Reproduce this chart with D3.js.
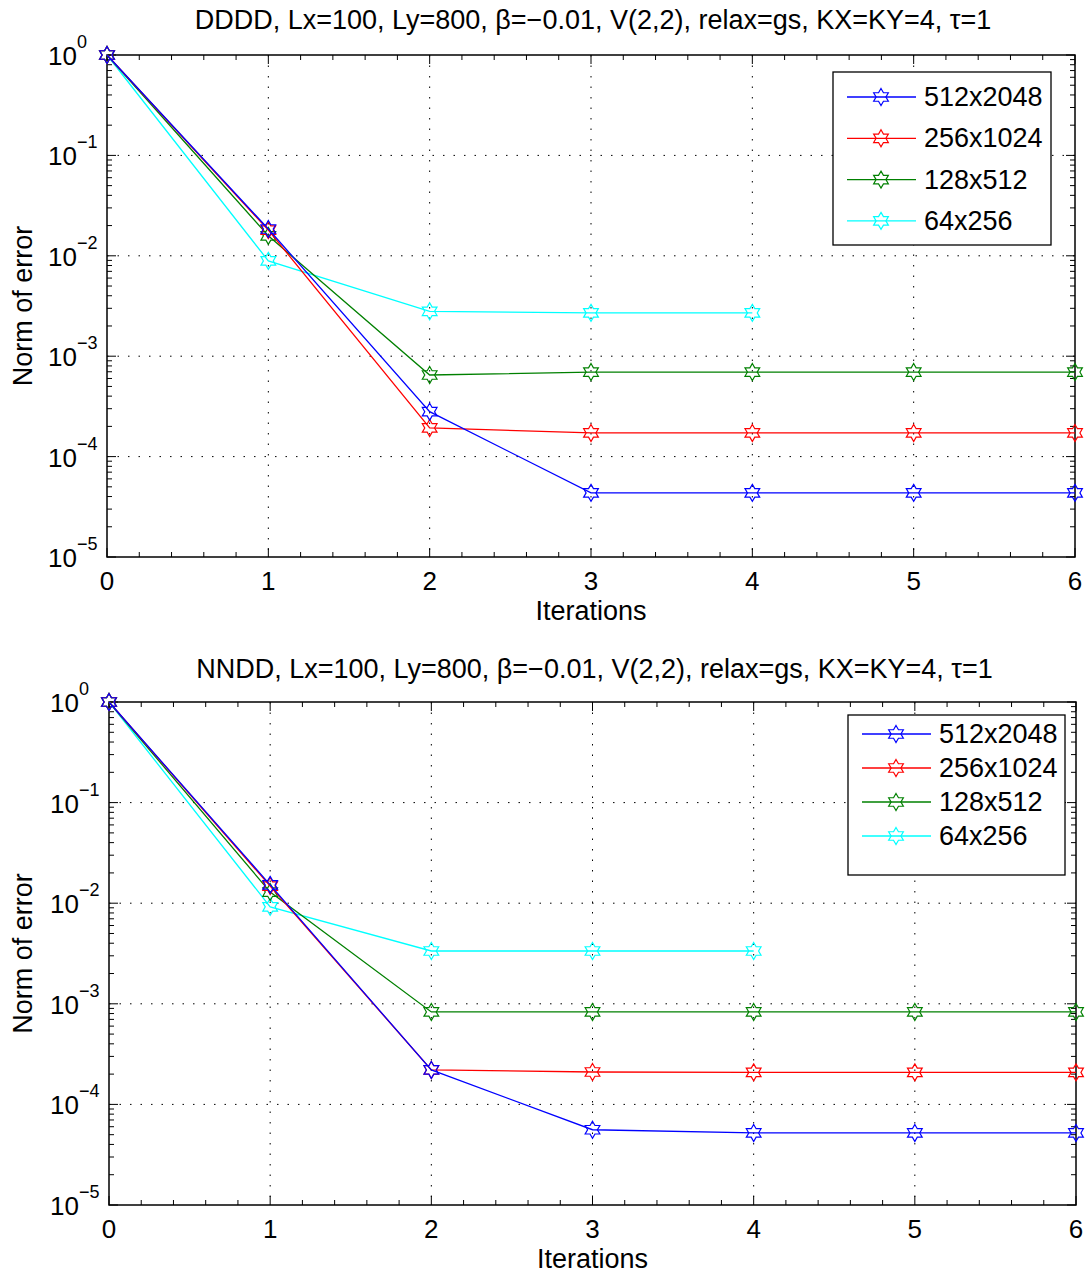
<!DOCTYPE html>
<html>
<head>
<meta charset="utf-8">
<script src="https://cdn.jsdelivr.net/npm/d3@7"></script>
<style>
  body { margin: 0; background: #fff; }
  svg { font-family: "Liberation Sans", Arial, sans-serif; }
</style>
</head>
<body>
<div id="chart"></div>
<script>
// iterations and grid sizes
var iterations = [0, 1, 2, 3, 4, 5, 6];
var seriesNames = ["512x2048", "256x1024", "128x512", "64x256"];
var seriesColors = ["#0000ff", "#ff0000", "#008000", "#00ffff"];

// DDDD errors
var dddd512 = [1, 0.0185, 2.8e-4, 4.35e-5, 4.35e-5, 4.35e-5, 4.35e-5];
var dddd256 = [1, 0.018, 1.93e-4, 1.72e-4, 1.72e-4, 1.72e-4, 1.72e-4];
var dddd128 = [1, 0.0158, 6.5e-4, 6.95e-4, 6.95e-4, 6.95e-4, 6.95e-4];
var dddd64 = [1, 0.0089, 2.8e-3, 2.7e-3, 2.7e-3];

// NNDD errors
var nndd512 = [1, 0.0152, 2.2e-4, 5.6e-5, 5.2e-5, 5.2e-5, 5.2e-5];
var nndd256 = [1, 0.0148, 2.2e-4, 2.1e-4, 2.08e-4, 2.08e-4, 2.08e-4];
var nndd128 = [1, 0.0129, 8.3e-4, 8.3e-4, 8.3e-4, 8.3e-4, 8.3e-4];
var nndd64 = [1, 0.0092, 3.35e-3, 3.35e-3, 3.35e-3];

var yTickExps = [0, -1, -2, -3, -4, -5];

var W = 1087, H = 1274;
var svg = d3.select("#chart").append("svg")
    .attr("width", W)
    .attr("height", H);

function hexagram(r) {
  var pts = [];
  var ri = r / Math.sqrt(3);
  for (var i = 0; i < 12; i++) {
    var a = -Math.PI / 2 + i * Math.PI / 6;
    var rr = i % 2 === 0 ? r : ri;
    pts.push([rr * Math.cos(a), rr * Math.sin(a)]);
  }
  return "M" + pts.map(function(p) { return p[0].toFixed(2) + "," + p[1].toFixed(2); }).join("L") + "Z";
}
var star = hexagram(8.5);

function drawPanel(opt) {
  var x = d3.scaleLinear().domain([0, 6]).range([opt.left, opt.right]);
  var y = d3.scaleLog().domain([1e-5, 1]).range([opt.bottom, opt.top]);
  var g = svg.append("g");

  // grid
  g.selectAll(".gx").data(iterations.slice(1, 6)).enter().append("line")
      .attr("x1", function(d) { return x(d); }).attr("x2", function(d) { return x(d); })
      .attr("y1", opt.top).attr("y2", opt.bottom)
      .attr("stroke", "#000").attr("stroke-width", 1)
      .attr("stroke-dasharray", "1.5,9");
  g.selectAll(".gy").data(yTickExps.slice(1, 5)).enter().append("line")
      .attr("y1", function(d) { return y(Math.pow(10, d)); }).attr("y2", function(d) { return y(Math.pow(10, d)); })
      .attr("x1", opt.left).attr("x2", opt.right)
      .attr("stroke", "#000").attr("stroke-width", 1)
      .attr("stroke-dasharray", "1.5,9");

  // minor ticks on x (0.2 steps), inside, bottom and top
  var xMinor = d3.range(0, 6.001, 0.2).filter(function(v) { return Math.abs(v - Math.round(v)) > 1e-6; });
  [opt.bottom, opt.top].forEach(function(yy, k) {
    var dir = k === 0 ? -1 : 1;
    g.selectAll(null).data(xMinor).enter().append("line")
        .attr("x1", function(d) { return x(d); }).attr("x2", function(d) { return x(d); })
        .attr("y1", yy).attr("y2", yy + dir * 5)
        .attr("stroke", "#000").attr("stroke-width", 1);
    g.selectAll(null).data(iterations).enter().append("line")
        .attr("x1", function(d) { return x(d); }).attr("x2", function(d) { return x(d); })
        .attr("y1", yy).attr("y2", yy + dir * 9)
        .attr("stroke", "#000").attr("stroke-width", 1);
  });

  // y ticks: major at decades, minor 2..9
  var yMinor = [];
  for (var e = -5; e < 0; e++) for (var m = 2; m <= 9; m++) yMinor.push(m * Math.pow(10, e));
  [opt.left, opt.right].forEach(function(xx, k) {
    var dir = k === 0 ? 1 : -1;
    g.selectAll(null).data(yMinor).enter().append("line")
        .attr("y1", function(d) { return y(d); }).attr("y2", function(d) { return y(d); })
        .attr("x1", xx).attr("x2", xx + dir * 5)
        .attr("stroke", "#000").attr("stroke-width", 1);
    g.selectAll(null).data(yTickExps).enter().append("line")
        .attr("y1", function(d) { return y(Math.pow(10, d)); }).attr("y2", function(d) { return y(Math.pow(10, d)); })
        .attr("x1", xx).attr("x2", xx + dir * 9)
        .attr("stroke", "#000").attr("stroke-width", 1);
  });

  // frame
  g.append("rect")
      .attr("x", opt.left).attr("y", opt.top)
      .attr("width", opt.right - opt.left).attr("height", opt.bottom - opt.top)
      .attr("fill", "none").attr("stroke", "#000").attr("stroke-width", 1.5);

  // tick labels
  g.selectAll(null).data(iterations).enter().append("text")
      .attr("x", function(d) { return x(d); })
      .attr("y", opt.bottom + 33)
      .attr("text-anchor", "middle")
      .attr("font-size", 26)
      .text(function(d) { return d; });

  g.selectAll(null).data(yTickExps).enter().append("text")
      .attr("x", opt.left - 30)
      .attr("y", function(d) { return y(Math.pow(10, d)) + 10; })
      .attr("text-anchor", "end")
      .attr("font-size", 26)
      .text("10");
  g.selectAll(null).data(yTickExps).enter().append("text")
      .attr("x", opt.left - 30)
      .attr("y", function(d) { return y(Math.pow(10, d)) - 7; })
      .attr("font-size", 18)
      .text(function(d) { return d === 0 ? "0" : "\u2212" + (-d); });

  // axis labels and title
  g.append("text")
      .attr("x", (opt.left + opt.right) / 2)
      .attr("y", opt.bottom + 63)
      .attr("text-anchor", "middle")
      .attr("font-size", 27)
      .text("Iterations");
  g.append("text")
      .attr("transform", "translate(" + 32 + "," + ((opt.top + opt.bottom) / 2) + ") rotate(-90)")
      .attr("text-anchor", "middle")
      .attr("font-size", 27)
      .text("Norm of error");
  g.append("text")
      .attr("x", (opt.left + opt.right) / 2 + 2)
      .attr("y", opt.top - opt.titleGap)
      .attr("text-anchor", "middle")
      .attr("font-size", 27)
      .text(opt.title);

  // series
  var line = d3.line()
      .x(function(d, i) { return x(iterations[i]); })
      .y(function(d) { return y(d); });
  var order = [3, 2, 1, 0];
  order.forEach(function(s) {
    var vals = opt.series[s];
    g.append("path")
        .attr("d", line(vals))
        .attr("fill", "none")
        .attr("stroke", seriesColors[s])
        .attr("stroke-width", 1.3);
    g.selectAll(null).data(vals).enter().append("path")
        .attr("d", star)
        .attr("transform", function(d, i) { return "translate(" + x(iterations[i]) + "," + y(d) + ")"; })
        .attr("fill", "none")
        .attr("stroke", seriesColors[s])
        .attr("stroke-width", 1.2);
  });

  // legend
  var lg = g.append("g").attr("transform", "translate(" + opt.legend[0] + "," + opt.legend[1] + ")");
  lg.append("rect")
      .attr("width", opt.legend[2]).attr("height", opt.legend[3])
      .attr("fill", "#fff").attr("stroke", "#000").attr("stroke-width", 1.3);
  seriesNames.forEach(function(name, s) {
    var ry = opt.legend[4] + s * opt.legend[5];
    lg.append("line")
        .attr("x1", 14).attr("x2", 83).attr("y1", ry).attr("y2", ry)
        .attr("stroke", seriesColors[s]).attr("stroke-width", 1.3);
    lg.append("path")
        .attr("d", star)
        .attr("transform", "translate(48," + ry + ")")
        .attr("fill", "none").attr("stroke", seriesColors[s]).attr("stroke-width", 1.2);
    lg.append("text")
        .attr("x", 91).attr("y", ry + 9)
        .attr("font-size", 27)
        .text(name);
  });
}

drawPanel({
  left: 107, right: 1075, top: 55, bottom: 557, titleGap: 26,
  title: "DDDD, Lx=100, Ly=800, \u03b2=\u22120.01, V(2,2), relax=gs, KX=KY=4, \u03c4=1",
  series: [dddd512, dddd256, dddd128, dddd64],
  legend: [833, 72, 218, 173, 25, 41.3]
});
drawPanel({
  left: 109, right: 1076, top: 702, bottom: 1205, titleGap: 24,
  title: "NNDD, Lx=100, Ly=800, \u03b2=\u22120.01, V(2,2), relax=gs, KX=KY=4, \u03c4=1",
  series: [nndd512, nndd256, nndd128, nndd64],
  legend: [848, 715, 217, 160, 19, 34]
});
</script>
</body>
</html>
